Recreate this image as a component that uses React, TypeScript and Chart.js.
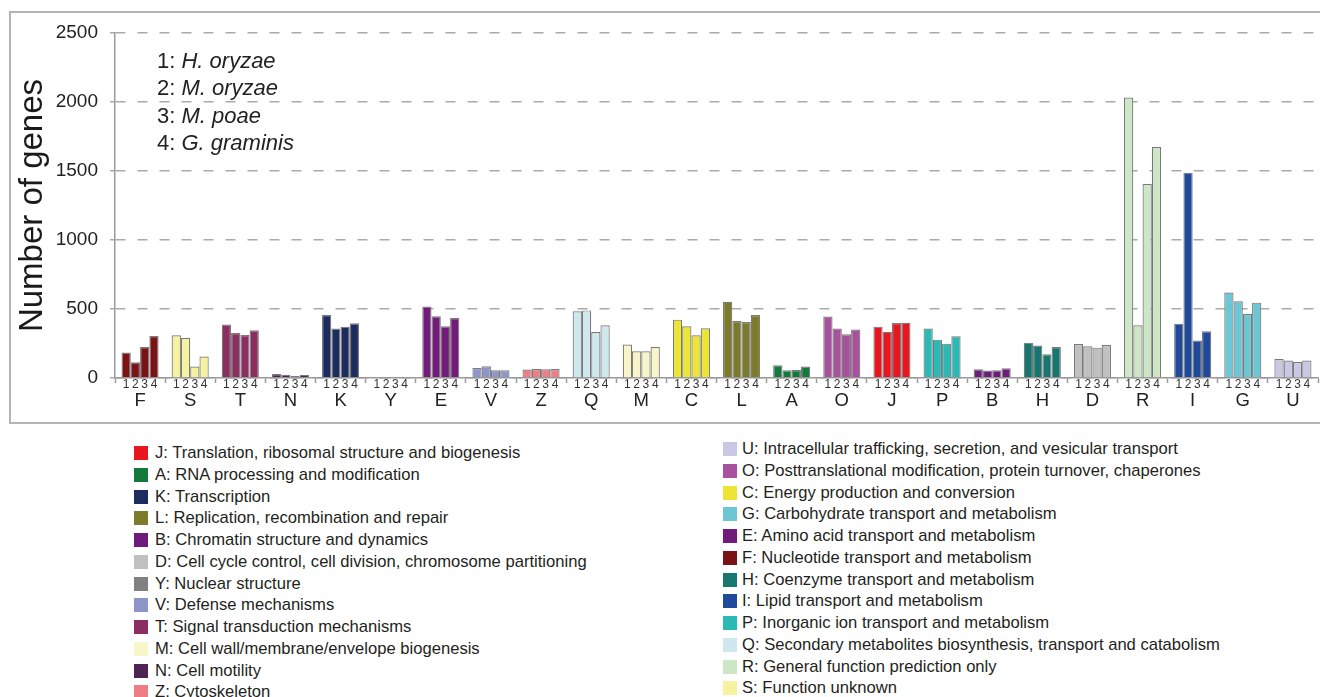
import React, { useEffect, useRef } from "react";
import { Chart, registerables } from "chart.js";

Chart.register(...registerables);

const FONT = "'Liberation Sans', Arial, Helvetica, sans-serif";

const categories = ["F", "S", "T", "N", "K", "Y", "E", "V", "Z", "Q", "M", "C", "L", "A", "O", "J", "P", "B", "H", "D", "R", "I", "G", "U"];

const hOryzae = [184, 309, 387, 29, 456, 4, 519, 72, 61, 483, 242, 423, 553, 92, 445, 372, 358, 63, 256, 246, 2032, 394, 619, 138];
const mOryzae = [114, 290, 326, 22, 358, 5, 447, 85, 65, 490, 193, 375, 413, 56, 358, 335, 278, 54, 235, 230, 382, 1488, 556, 126];
const mPoae = [225, 83, 312, 14, 372, 3, 375, 56, 63, 333, 193, 309, 406, 58, 317, 398, 249, 56, 172, 220, 1406, 271, 464, 116];
const gGraminis = [304, 155, 346, 22, 396, 4, 435, 56, 65, 382, 225, 360, 456, 83, 351, 400, 302, 70, 225, 239, 1674, 338, 546, 126];

const yTicks = [0, 500, 1000, 1500, 2000, 2500];
const speciesNumbers = ["1", "2", "3", "4"];
const speciesNames = ["H. oryzae", "M. oryzae", "M. poae", "G. graminis"];

const categoryColors: Record<string, string> = {
  J: "#e8161f",
  A: "#137a3d",
  K: "#1c2c5e",
  L: "#7b7b2b",
  B: "#6d1c7c",
  D: "#c0c0c0",
  Y: "#808080",
  V: "#8e95c9",
  T: "#8c2f60",
  M: "#f8f6c9",
  N: "#4e2454",
  Z: "#ee7d84",
  U: "#c8c8e5",
  O: "#a8519f",
  C: "#ece533",
  G: "#6cc6d4",
  E: "#731b7b",
  F: "#7b1216",
  H: "#167670",
  I: "#1f4a9c",
  P: "#2bb9b5",
  Q: "#cfe8ee",
  R: "#cde6c6",
  S: "#f6f3a0",
};

const legendLeftCodes = ["J", "A", "K", "L", "B", "D", "Y", "V", "T", "M", "N", "Z"];
const legendRightCodes = ["U", "O", "C", "G", "E", "F", "H", "I", "P", "Q", "R", "S"];

const descriptions: Record<string, string> = {
  J: "Translation, ribosomal structure and biogenesis",
  A: "RNA processing and modification",
  K: "Transcription",
  L: "Replication, recombination and repair",
  B: "Chromatin structure and dynamics",
  D: "Cell cycle control, cell division, chromosome partitioning",
  Y: "Nuclear structure",
  V: "Defense mechanisms",
  T: "Signal transduction mechanisms",
  M: "Cell wall/membrane/envelope biogenesis",
  N: "Cell motility",
  Z: "Cytoskeleton",
  U: "Intracellular trafficking, secretion, and vesicular transport",
  O: "Posttranslational modification, protein turnover, chaperones",
  C: "Energy production and conversion",
  G: "Carbohydrate transport and metabolism",
  E: "Amino acid transport and metabolism",
  F: "Nucleotide transport and metabolism",
  H: "Coenzyme transport and metabolism",
  I: "Lipid transport and metabolism",
  P: "Inorganic ion transport and metabolism",
  Q: "Secondary metabolites biosynthesis, transport and catabolism",
  R: "General function prediction only",
  S: "Function unknown",
};

const frameAndNotes = {
  id: "frameAndNotes",
  beforeDraw(chart: any) {
    const ctx = chart.ctx;
    ctx.save();
    ctx.strokeStyle = "#b4b4b4";
    ctx.lineWidth = 2;
    ctx.strokeRect(2, 4, chart.width + 40, 411);
    ctx.restore();
  },
  afterDatasetsDraw(chart: any) {
    const ctx = chart.ctx;
    const area = chart.chartArea;
    ctx.save();
    ctx.fillStyle = "#333";
    ctx.font = `12px ${FONT}`;
    ctx.textAlign = "center";
    ctx.textBaseline = "middle";
    chart.data.datasets.forEach((_ds: any, i: number) => {
      const meta = chart.getDatasetMeta(i);
      meta.data.forEach((el: any) => {
        ctx.fillText(speciesNumbers[i], el.x, area.bottom + 6.5);
      });
    });
    ctx.textAlign = "left";
    ctx.fillStyle = "#222";
    speciesNames.forEach((name, i) => {
      const x = area.left + 42;
      const y = area.top + 29 + i * 27.3;
      ctx.font = `22px ${FONT}`;
      const prefix = `${speciesNumbers[i]}: `;
      ctx.fillText(prefix, x, y);
      const w = ctx.measureText(prefix).width;
      ctx.font = `italic 22px ${FONT}`;
      ctx.fillText(name, x + w, y);
    });
    ctx.restore();
  },
};

function LegendColumn({ codes, squareLeft, textLeft, firstCenter }: { codes: string[]; squareLeft: number; textLeft: number; firstCenter: number }) {
  const step = 21.75;
  return (
    <>
      {codes.map((code, i) => {
        const cy = firstCenter + i * step;
        return (
          <React.Fragment key={code}>
            <div
              style={{
                position: "absolute",
                left: squareLeft,
                top: cy - 7,
                width: 14,
                height: 14,
                background: categoryColors[code],
              }}
            />
            <div
              style={{
                position: "absolute",
                left: textLeft,
                top: cy - 10,
                height: 20,
                lineHeight: "20px",
                fontSize: 16.6,
                color: "#231f20",
                whiteSpace: "nowrap",
              }}
            >
              {`${code}: ${descriptions[code]}`}
            </div>
          </React.Fragment>
        );
      })}
    </>
  );
}

export default function App() {
  const canvasRef = useRef<HTMLCanvasElement | null>(null);

  useEffect(() => {
    document.documentElement.style.overflow = "hidden";
    document.body.style.overflow = "hidden";
    const canvas = canvasRef.current;
    if (!canvas) return;
    const bg = categories.map((c) => categoryColors[c]);
    const series = [hOryzae, mOryzae, mPoae, gGraminis];
    const chart = new Chart(canvas, {
      type: "bar",
      data: {
        labels: categories,
        datasets: series.map((data, i) => ({
          label: speciesNames[i],
          data,
          backgroundColor: bg,
          borderColor: "#7a7a7a",
          borderWidth: 1.2,
          categoryPercentage: 0.74,
          barPercentage: 1.0,
          minBarLength: 1,
        })),
      },
      options: {
        responsive: false,
        animation: false,
        devicePixelRatio: 1,
        layout: { padding: { top: 25, right: 2, left: 0, bottom: 0 } },
        plugins: {
          legend: { display: false },
          tooltip: { enabled: false },
          title: { display: false },
        },
        scales: {
          x: {
            type: "category",
            offset: true,
            grid: {
              display: true,
              drawOnChartArea: false,
              drawTicks: true,
              tickLength: 5,
              tickColor: "#9a9a9a",
              tickWidth: 1.5,
              offset: true,
            },
            border: { display: true, color: "#9a9a9a", width: 1.5 },
            ticks: {
              color: "#222",
              font: { size: 18.5, family: FONT },
              padding: 7,
              autoSkip: false,
              maxRotation: 0,
              minRotation: 0,
            },
            afterFit: (s: any) => {
              s.height = 50;
            },
          },
          y: {
            min: 0,
            max: 2500,
            afterBuildTicks: (s: any) => {
              s.ticks = yTicks.map((v) => ({ value: v }));
            },
            grid: {
              color: "#aaaaaa",
              lineWidth: 1.5,
              tickLength: 5,
              drawTicks: true,
            },
            border: { display: true, color: "#9a9a9a", width: 1.5, dash: [10, 12] },
            ticks: {
              color: "#222",
              font: { size: 19, family: FONT },
              padding: 12,
              callback: (v: any) => String(v),
            },
            title: {
              display: true,
              text: "Number of genes",
              color: "#1a1a1a",
              font: { size: 33, family: FONT },
              padding: { top: 5, bottom: 0 },
            },
            afterFit: (s: any) => {
              s.width = 107;
            },
          },
        },
      },
      plugins: [frameAndNotes],
    } as any);
    return () => chart.destroy();
  }, []);

  return (
    <div
      style={{
        position: "relative",
        width: 1312,
        height: 689,
        overflow: "hidden",
        fontFamily: FONT,
      }}
    >
      <canvas ref={canvasRef} width={1312} height={420} style={{ display: "block", width: 1312, height: 420 }} />
      <LegendColumn codes={legendLeftCodes} squareLeft={126} textLeft={147} firstCenter={445} />
      <LegendColumn codes={legendRightCodes} squareLeft={715} textLeft={734} firstCenter={441} />
    </div>
  );
}
